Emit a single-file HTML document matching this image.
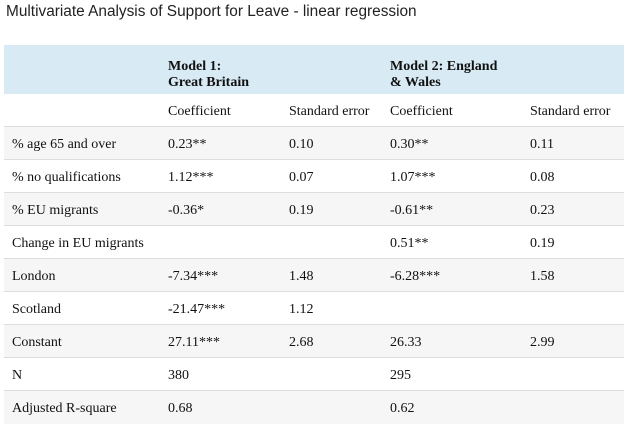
<!DOCTYPE html>
<html><head><meta charset="utf-8"><style>
body{margin:0;width:635px;height:425px;background:#fff;overflow:hidden;position:relative}
.t{position:absolute;left:6px;top:3px;font:15.4px "Liberation Sans",sans-serif;color:#222}
.hd{position:absolute;left:4px;top:45px;width:620px;height:49px;background:#d8eaf4}
.hd span{position:absolute;font:bold 14px/16px "Liberation Serif",serif;color:#111}
.r{position:absolute;left:4px;width:620px;height:33px;border-top:1px solid #ddd;font:14px "Liberation Serif",serif;color:#111}
.r.g{background:#f6f6f6}
.r span{position:absolute;top:10px}
.a{left:8px}.b{left:164px}.c{left:285px}.d{left:386px}.e{left:526px}
</style></head><body>
<div class="t">Multivariate Analysis of Support for Leave - linear regression</div>
<div class="hd"><span style="left:164px;top:14px">Model 1:<br>Great Britain</span><span style="left:386px;top:14px">Model 2: England<br>&amp; Wales</span></div>
<div class="r" style="top:94px;border-top:none"><span class="b">Coefficient</span><span class="c">Standard error</span><span class="d">Coefficient</span><span class="e">Standard error</span></div>
<div class="r g" style="top:126px"><span class="a">% age 65 and over</span><span class="b">0.23**</span><span class="c">0.10</span><span class="d">0.30**</span><span class="e">0.11</span></div>
<div class="r" style="top:159px"><span class="a">% no qualifications</span><span class="b">1.12***</span><span class="c">0.07</span><span class="d">1.07***</span><span class="e">0.08</span></div>
<div class="r g" style="top:192px"><span class="a">% EU migrants</span><span class="b">-0.36*</span><span class="c">0.19</span><span class="d">-0.61**</span><span class="e">0.23</span></div>
<div class="r" style="top:225px"><span class="a">Change in EU migrants</span><span class="d">0.51**</span><span class="e">0.19</span></div>
<div class="r g" style="top:258px"><span class="a">London</span><span class="b">-7.34***</span><span class="c">1.48</span><span class="d">-6.28***</span><span class="e">1.58</span></div>
<div class="r" style="top:291px"><span class="a">Scotland</span><span class="b">-21.47***</span><span class="c">1.12</span></div>
<div class="r g" style="top:324px"><span class="a">Constant</span><span class="b">27.11***</span><span class="c">2.68</span><span class="d">26.33</span><span class="e">2.99</span></div>
<div class="r" style="top:357px"><span class="a">N</span><span class="b">380</span><span class="d">295</span></div>
<div class="r g" style="top:390px"><span class="a">Adjusted R-square</span><span class="b">0.68</span><span class="d">0.62</span></div>
</body></html>
